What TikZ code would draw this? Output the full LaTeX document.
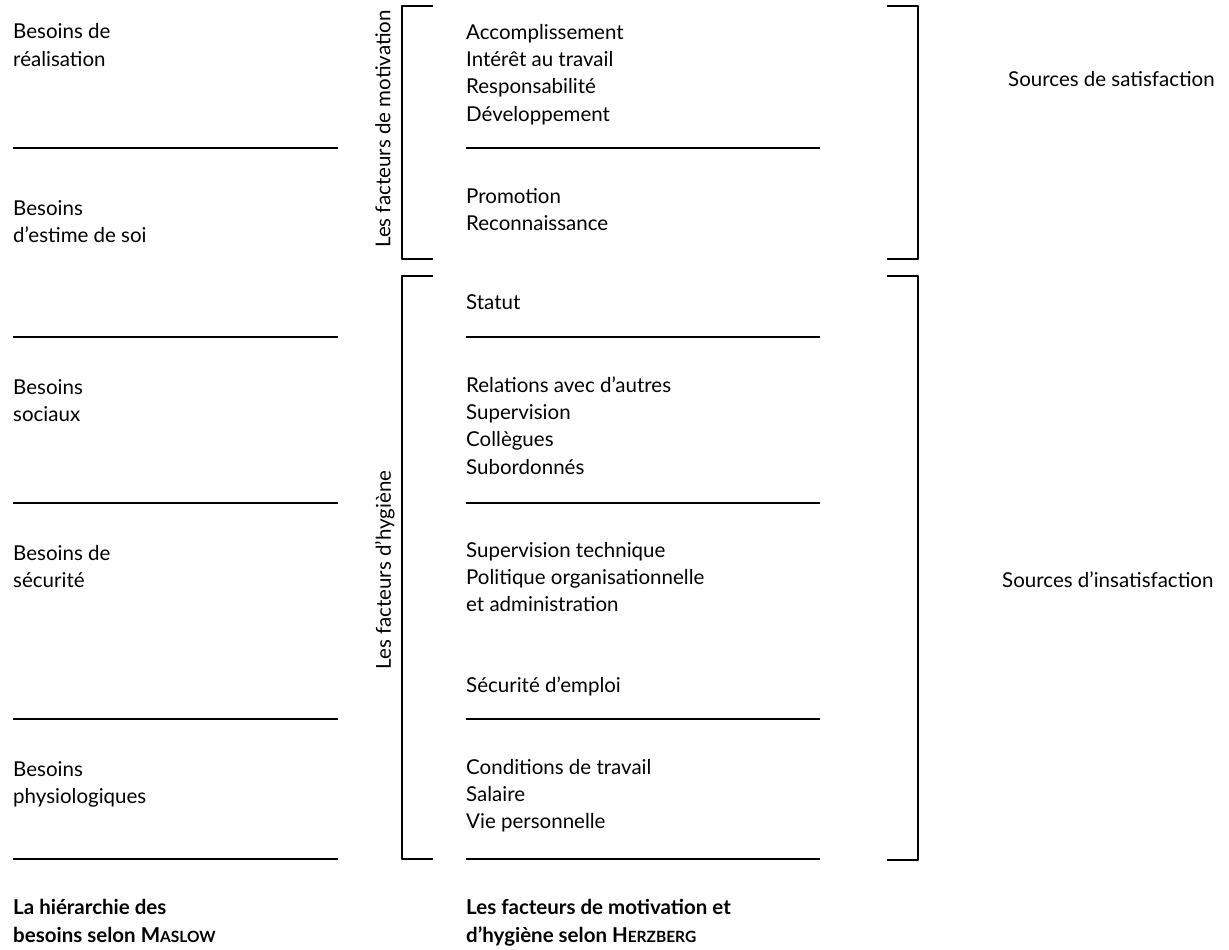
\documentclass[tikz,border=0pt]{standalone}
\usepackage{fontspec}
\setmainfont{Lato}
\begin{document}
\begin{tikzpicture}[x=1pt,y=-1pt,
  txt/.style={anchor=base west, inner sep=0pt, align=left, font=\fontsize{20.5}{27.4}\selectfont},
  boldtxt/.style={anchor=base west, inner sep=0pt, align=left, font=\fontsize{20.5}{28}\selectfont\bfseries},
  rule/.style={line width=2pt},
  brk/.style={line width=2pt, line join=round},
  vlab/.style={rotate=90, inner sep=0pt}]
\useasboundingbox[fill=white] (0,0) rectangle (1229,950);
\newcommand{\smc}[2]{#1{\fontsize{15.5}{20}\selectfont #2}}
% left column: Maslow (anchors at baseline of last line)
\node[txt] (m5) at (13,66.4) {Besoins de\\réalisation};
\node[txt] (m4) at (13,242.4) {Besoins\\d’estime de soi};
\node[txt] (m3) at (13,421.4) {Besoins\\sociaux};
\node[txt] (m2) at (13,587.4) {Besoins de\\sécurité};
\node[txt] (m1) at (13,803.4) {Besoins\\physiologiques};
\node[boldtxt] (mt) at (13,942) {La hiérarchie des\\besoins selon \smc{M}{ASLOW}};
\foreach \y in {148,337,503,719,859} \draw[rule] (13,\y) -- (338,\y);
% middle column: Herzberg
\node[txt] (h1) at (466,121.2) {Accomplissement\\Intérêt au travail\\Responsabilité\\Développement};
\node[txt] (h2) at (466,230.4) {Promotion\\Reconnaissance};
\node[txt] (h3) at (466,309) {Statut};
\node[txt] (h4) at (466,474.2) {Relations avec d’autres\\Supervision\\Collègues\\Subordonnés};
\node[txt] (h5) at (466,611.8) {Supervision technique\\Politique organisationnelle\\et administration};
\node[txt] (h6) at (466,692) {Sécurité d’emploi};
\node[txt] (h7) at (466,828.8) {Conditions de travail\\Salaire\\Vie personnelle};
\node[boldtxt] (ht) at (466,942) {Les facteurs de motivation et\\d’hygiène  selon \smc{H}{ERZBERG}};
\foreach \y in {148,337,503,719,859} \draw[rule] (466,\y) -- (820,\y);
% brackets
\draw[brk] (433,6) -- (402,6) -- (402,259) -- (433,259);
\draw[brk] (433,276) -- (402,276) -- (402,859) -- (433,859);
\draw[brk] (887,6) -- (918,6) -- (918,259) -- (887,259);
\draw[brk] (887,276) -- (918,276) -- (918,860) -- (887,860);
\node[vlab, font=\fontsize{20.5}{24}\selectfont] (vm) at (383,129) {Les facteurs de motivation};
\node[vlab, font=\fontsize{20.5}{24}\selectfont] (vh) at (385,570) {Les facteurs d’hygiène};
% right labels
\node[txt] (ss) at (1008,87) {Sources de satisfaction};
\node[txt] (si) at (1002,587) {Sources d’insatisfaction};
\end{tikzpicture}
\end{document}
